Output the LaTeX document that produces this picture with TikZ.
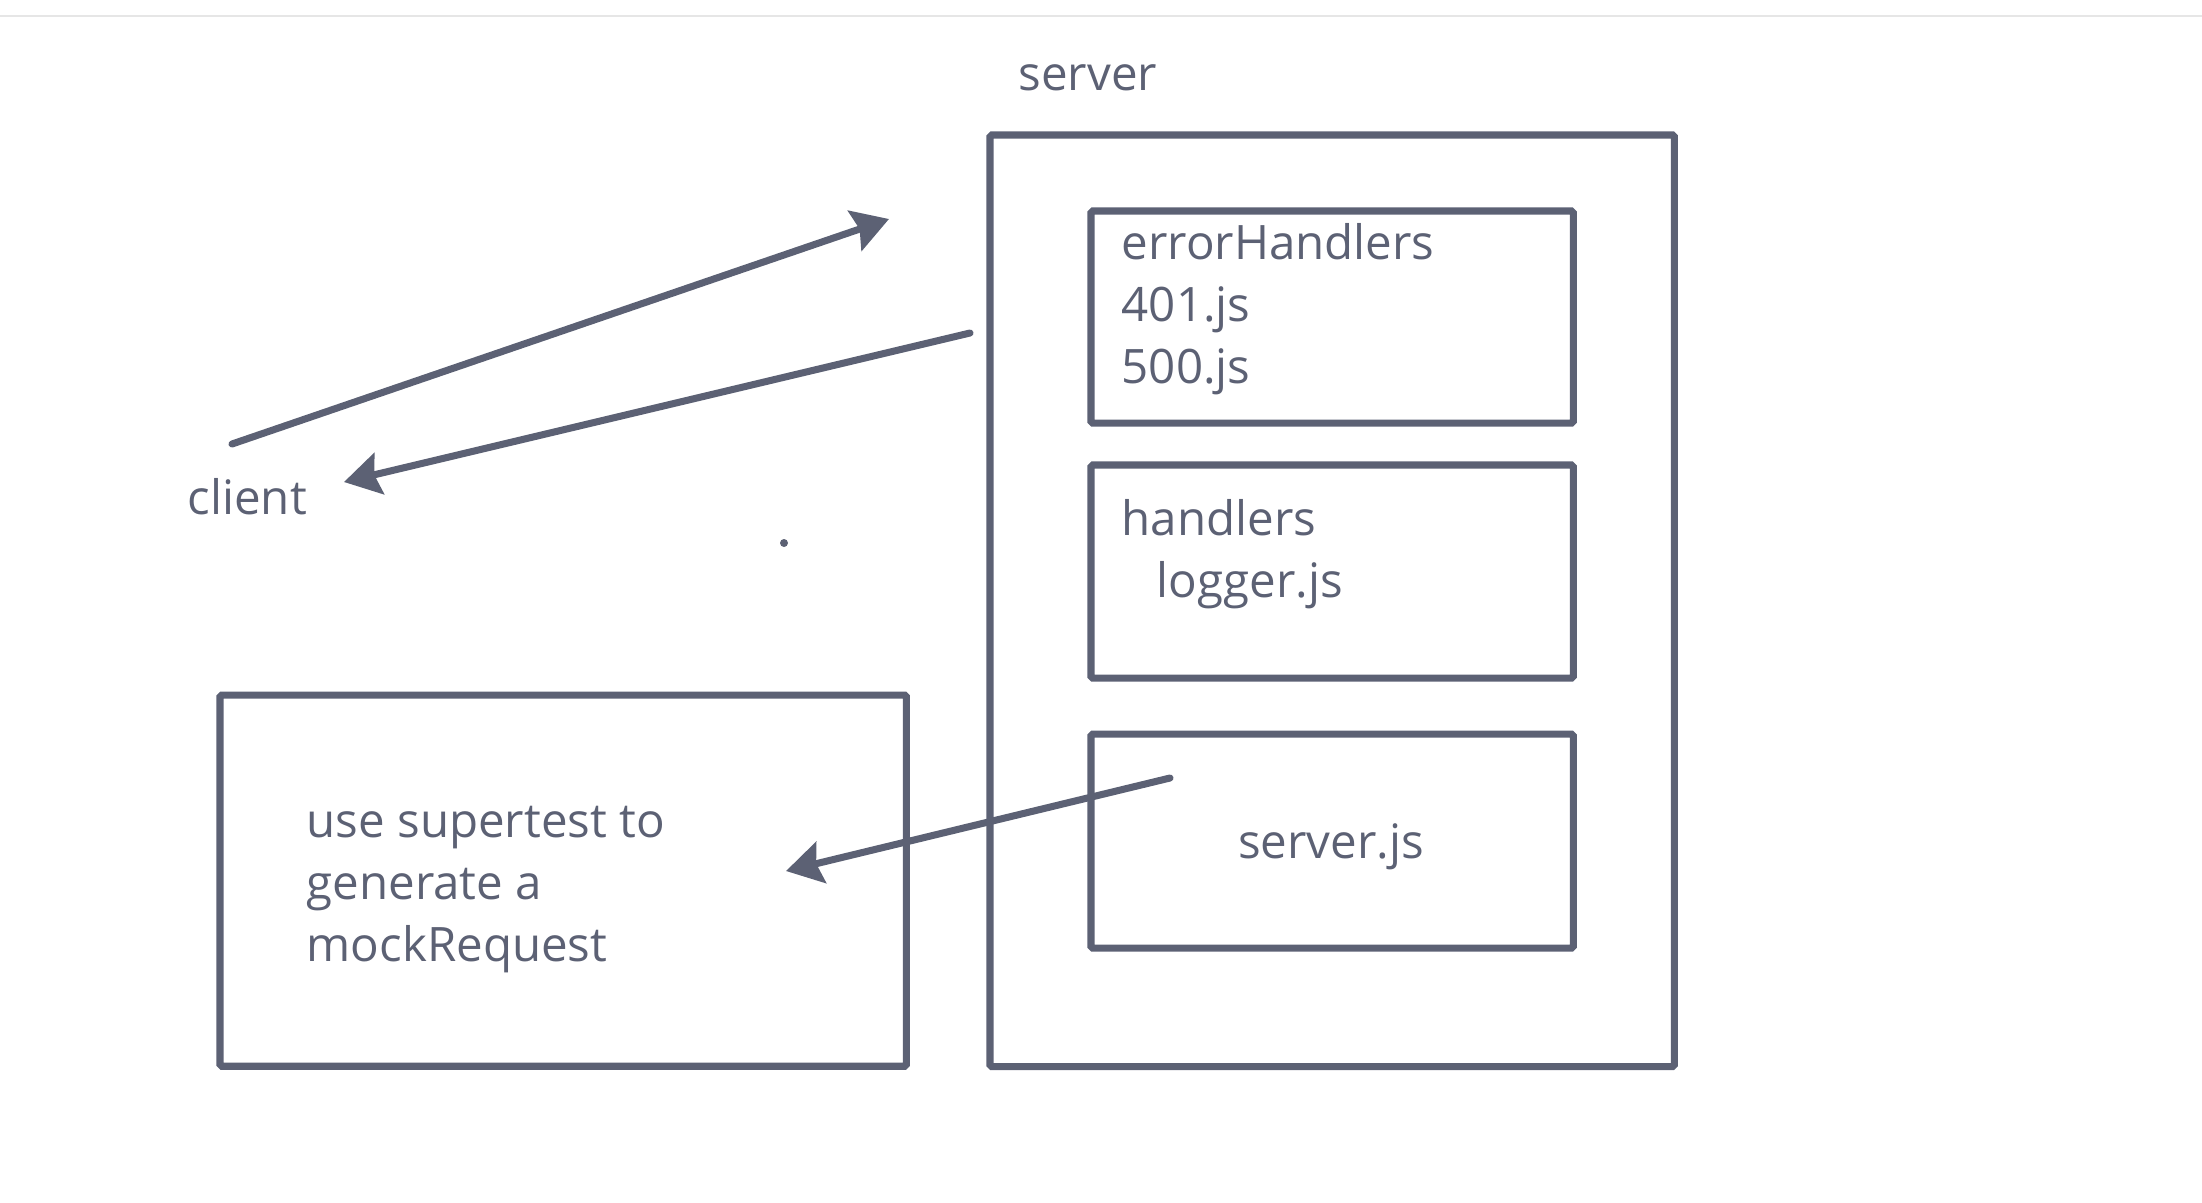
\documentclass[tikz,border=0pt]{standalone}
\usepackage{fontspec}
\setmainfont{Open Sans}
\usetikzlibrary{arrows.meta}
\definecolor{ink}{RGB}{92,97,116}
\definecolor{rulegrey}{RGB}{230,230,230}
\tikzset{
  box/.style={draw=ink, line width=2pt, rounded corners=0.5pt, inner sep=0pt, outer sep=0pt, anchor=north west},
  txt/.style={text=ink, inner sep=0pt, anchor=base west, font=\fontsize{13.5}{17.6}\selectfont},
  flow/.style={draw=ink, line width=2pt, line cap=round,
    -{Stealth[length=0.36cm, width=0.42cm, inset=0.05cm]}}
}
\begin{document}
\begin{tikzpicture}[x=0.01cm, y=-0.01cm]
\useasboundingbox (0,0) rectangle (2202,1202);
\draw[rulegrey, line width=0.6pt] (0,16) -- (2202,16);
% boxes
\node[box, minimum width=6.84cm, minimum height=9.31cm] (server) at (990,135) {};
\node[box, minimum width=4.82cm, minimum height=2.12cm] (errors) at (1091,211) {};
\node[box, minimum width=4.82cm, minimum height=2.13cm] (handlers) at (1091,465) {};
\node[box, minimum width=4.82cm, minimum height=2.14cm] (serverjs) at (1091,734) {};
\node[box, minimum width=6.86cm, minimum height=3.71cm] (mock) at (220,695) {};
% labels
\node[txt] (serverlbl) at (1018,90) {server};
\node[txt] (clientlbl) at (187,514) {client};
\node[txt] (errlbl) at (1121,259) {errorHandlers};
\node[txt] (f401) at (1121,321) {401.js};
\node[txt] (f500) at (1121,383) {500.js};
\node[txt] (hlbl) at (1121,535) {handlers};
\node[txt] (logger) at (1156,597) {logger.js};
\node[txt, anchor=base] (sjs) at (1331,858) {server.js};
\node[txt] (m1) at (306,837) {use supertest to};
\node[txt] (m2) at (306,899) {generate a};
\node[txt] (m3) at (306,961) {mockRequest};
% arrows
\coordinate (reqA) at (232,444);
\coordinate (reqB) at (889,219);
\coordinate (resA) at (970,333);
\coordinate (resB) at (344,482);
\coordinate (mkA) at (1170,778);
\coordinate (mkB) at (786,871);
\draw[flow] (reqA) -- (reqB);
\draw[flow] (resA) -- (resB);
\draw[flow] (mkA) -- (mkB);
\fill[ink] (784,543) circle (4);
\end{tikzpicture}
\end{document}
